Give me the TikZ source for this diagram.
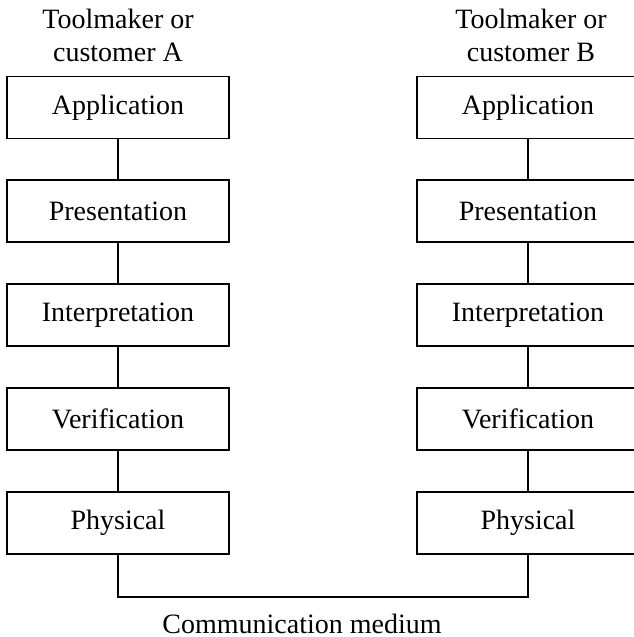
\documentclass[tikz,border=0pt]{standalone}
\usepackage{fontspec}
\setmainfont{Liberation Serif}
\usetikzlibrary{positioning}

\tikzset{
  layer/.style={draw, line width=0.9pt, minimum width=111pt, minimum height=31pt,
    inner sep=0pt, font=\fontsize{14}{16.5}\selectfont},
  party/.style={align=center, inner sep=0pt, font=\fontsize{14}{16.5}\selectfont},
}

\begin{document}
\begin{tikzpicture}[x=0.5pt,y=-0.5pt]
    \useasboundingbox (0,0) rectangle (633,637);
    \coordinate (A) at (118,107.5);
    \coordinate (B) at (528,107.5);
    \coordinate (M) at (0,597);

    \node[party] (userA) at (118,35.5) {Toolmaker or\\customer A};
    \node[party] (userB) at (531,35.5) {Toolmaker or\\customer B};

    \node[layer] (appA) at (A) {Application};
    \node[layer, below=20pt of appA] (preA) {Presentation};
    \node[layer, below=20pt of preA] (intA) {Interpretation};
    \node[layer, below=20pt of intA] (verA) {Verification};
    \node[layer, below=20pt of verA] (phyA) {Physical};

    \node[layer] (appB) at (B) {Application};
    \node[layer, below=20pt of appB] (preB) {Presentation};
    \node[layer, below=20pt of preB] (intB) {Interpretation};
    \node[layer, below=20pt of intB] (verB) {Verification};
    \node[layer, below=20pt of verB] (phyB) {Physical};

    \draw[line width=0.9pt] (appA) -- (preA) -- (intA) -- (verA) -- (phyA);
    \draw[line width=0.9pt] (appB) -- (preB) -- (intB) -- (verB) -- (phyB);
    \draw[line width=0.9pt] (phyA.south) -- (phyA.south |- M) -| (phyB.south);

    \node[party, anchor=base] (medium) at (302,633) {Communication medium};
\end{tikzpicture}
\end{document}
